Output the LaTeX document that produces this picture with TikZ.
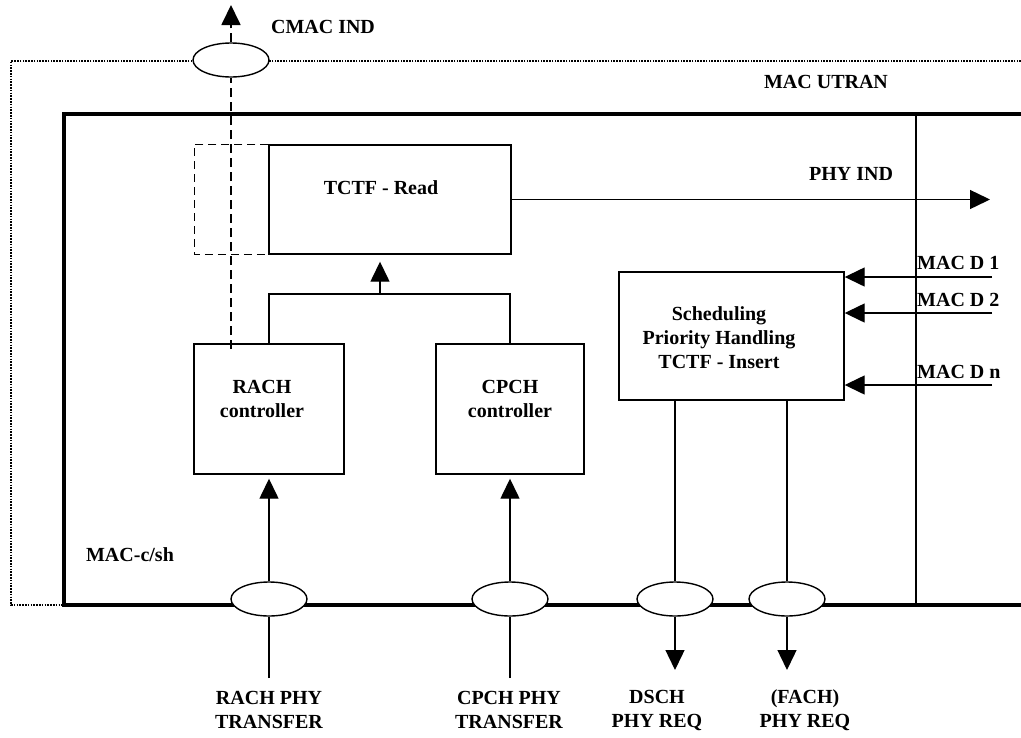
\documentclass[tikz,border=0pt]{standalone}
\usepackage{fontspec}
\setmainfont{Liberation Serif}
\usetikzlibrary{arrows.meta,shapes.geometric}

\begin{document}
\begin{tikzpicture}[x=1pt,y=-1pt,font=\bfseries\fontsize{20}{24}\selectfont,
  >={Triangle[width=19pt,length=20pt]}]
\tikzstyle{every node}+=[inner sep=0pt]
\tikzstyle{ln}=[line width=1.4pt]
\tikzstyle{blk}=[draw,ln,fill=white]
\tikzstyle{sap}=[draw,ellipse,ln,fill=white,minimum width=76pt,minimum height=34pt]
\tikzstyle{lbl}=[align=center]
\tikzstyle{dsh}=[line width=1.8pt,dash pattern=on 9pt off 5pt]
\useasboundingbox (0,0) rectangle (1021,737);
% frames
\draw [line width=2.2pt,dash pattern=on 1.6pt off 1.2pt] (1021,61) -- (11,61) -- (11,605) -- (64,605);
\draw [line width=3.2pt] (1021,114) -- (64,114) -- (64,605) -- (1021,605);
\draw [ln] (916,114) -- (916,605);
\node [lbl] (utran) at (826,82) {MAC UTRAN};
\node [lbl] (macsh) at (130,555) {MAC-c/sh};
% blocks
\node [blk,minimum width=242pt,minimum height=109pt] (tctf) at (390,199.5) {};
\node [lbl] (tctftxt) at (381,188) {TCTF - Read};
\draw [ln,dash pattern=on 8pt off 5pt] (tctf.north west) -- ++(-74,0) |- (tctf.south west);
\node [blk,minimum width=150pt,minimum height=130pt] (rach) at (269,409) {};
\node [lbl] (rachtxt) at (262,398.5) {RACH\\controller};
\node [blk,minimum width=148pt,minimum height=130pt] (cpch) at (510,409) {};
\node [lbl] (cpchtxt) at (510,398.5) {CPCH\\controller};
\node [blk,minimum width=225pt,minimum height=128pt] (sched) at (731.5,336) {};
\node [lbl] (schedtxt) at (719,338) {Scheduling\\Priority Handling\\TCTF - Insert};
% access points
\node [sap] (cmac) at (231,60) {};
\node [sap] (erach) at (269,599) {};
\node [sap] (ecpch) at (510,599) {};
\node [sap] (edsch) at (675,599) {};
\node [sap] (efach) at (787,599) {};
% end points
\coordinate (cmactop) at (231,5);
\coordinate (rachdash) at (231,349);
\coordinate (join) at (380,294);
\coordinate (phyind) at (990,199.5);
\coordinate (rachin) at (269,678);
\coordinate (cpchin) at (510,678);
\coordinate (dschout) at (675,670);
\coordinate (fachout) at (787,670);
\coordinate (md1) at (992,277);
\coordinate (md2) at (992,313);
\coordinate (mdn) at (992,385);
% connectors
\draw [dsh] (rachdash) -- (cmac.south);
\draw [dsh,->] (cmac.north) -- (cmactop);
\node [lbl] (cmaclbl) at (323,27) {CMAC IND};
\draw [ln,->] (tctf.east) -- (phyind);
\node [lbl] (phylbl) at (851,174) {PHY IND};
\draw [ln] (rach.north) |- (join) -| (cpch.north);
\draw [ln,->,shorten >=7pt] (join) -- (join |- tctf.south);
\draw [ln] (rachin) -- (erach.south);
\draw [ln,->,shorten >=4pt] (erach.north) -- (rach.south);
\draw [ln] (cpchin) -- (ecpch.south);
\draw [ln,->,shorten >=4pt] (ecpch.north) -- (cpch.south);
\draw [ln] (sched.south -| edsch) -- (edsch.north);
\draw [ln,->] (edsch.south) -- (dschout);
\draw [ln] (sched.south -| efach) -- (efach.north);
\draw [ln,->] (efach.south) -- (fachout);
\draw [ln,->] (md1) -- (sched.east |- md1);
\draw [ln,->] (md2) -- (sched.east |- md2);
\draw [ln,->] (mdn) -- (sched.east |- mdn);
\node [anchor=west] (md1lbl) at (917,263) {MAC D 1};
\node [anchor=west] (md2lbl) at (917,300) {MAC D 2};
\node [anchor=west] (mdnlbl) at (917,372) {MAC D n};
% bottom labels
\node [lbl] (rachlbl) at (269,710) {RACH PHY\\TRANSFER};
\node [lbl] (cpchlbl) at (509,710) {CPCH PHY\\TRANSFER};
\node [lbl] (dschlbl) at (657,710) {DSCH\\PHY REQ};
\node [lbl] (fachlbl) at (805,710) {(FACH)\\PHY REQ};
\end{tikzpicture}
\end{document}
